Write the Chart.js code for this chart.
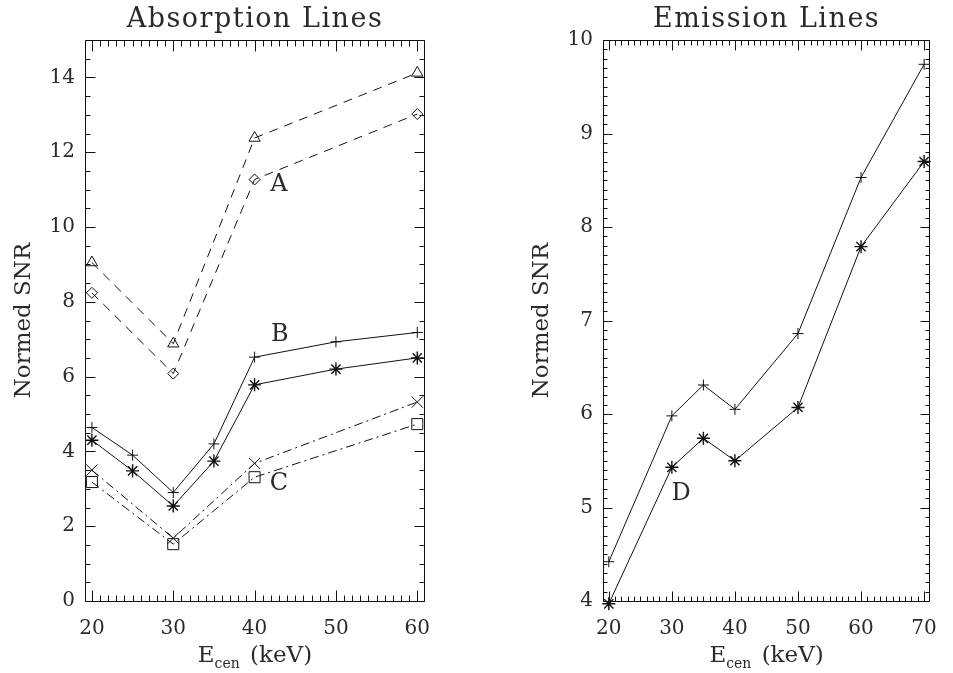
<!DOCTYPE html>
<html>
<head>
<meta charset="utf-8">
<script src="https://cdn.jsdelivr.net/npm/chart.js@4.4.0/dist/chart.umd.min.js"></script>
<style>
  html, body { margin: 0; padding: 0; background: #fff; }
  #wrap { position: relative; width: 953px; height: 673px; overflow: hidden; }
  #absBox { position: absolute; left: 0; top: 0; width: 476px; height: 673px; }
  #emiBox { position: absolute; left: 476px; top: 0; width: 477px; height: 673px; }
</style>
</head>
<body>
<div id="wrap">
  <div id="absBox"><canvas id="absChart" width="476" height="673"></canvas></div>
  <div id="emiBox"><canvas id="emiChart" width="477" height="673"></canvas></div>
</div>
<script>
// ---- values ----
// Absorption lines, group A (dashed)
const aEnergy   = [20, 30, 40, 60];
const aTriangle = [9.05, 6.88, 12.38, 14.12];
const aDiamond  = [8.24, 6.08, 11.27, 13.02];
// group B (solid)
const bEnergy   = [20, 25, 30, 35, 40, 50, 60];
const bPlus     = [4.64, 3.90, 2.90, 4.20, 6.52, 6.93, 7.18];
const bStar     = [4.30, 3.48, 2.54, 3.74, 5.78, 6.20, 6.50];
// group C (dash-dot)
const cEnergy   = [20, 30, 40, 60];
const cCross    = [3.50, 1.68, 3.68, 5.32];
const cSquare   = [3.18, 1.52, 3.31, 4.73];
// Emission lines (solid)
const eEnergy   = [20, 30, 35, 40, 50, 60, 70];
const ePlus     = [4.42, 5.98, 6.31, 6.05, 6.86, 8.53, 9.74];
const eStar     = [3.97, 5.43, 5.74, 5.50, 6.07, 7.79, 8.70];

// tick labels
const absXTicks = [20, 30, 40, 50, 60];
const absYTicks = [0, 2, 4, 6, 8, 10, 12, 14];
const emiXTicks = [20, 30, 40, 50, 60, 70];
const emiYTicks = [4, 5, 6, 7, 8, 9, 10];

// curve tags (data coords)
const absTagText = ['A', 'B', 'C'];
const absTagX    = [43.0, 43.1, 43.0];
const absTagY    = [10.96, 6.96, 2.96];
const emiTagText = ['D'];
const emiTagX    = [31.45];
const emiTagY    = [5.08];

const serif = "'DejaVu Serif', 'Liberation Serif', serif";
const ink = '#111';
const textInk = '#2a2a2a';

function steps(a, b, step){
  const out = [];
  for(let v = a; v <= b + 1e-9; v += step) out.push(+v.toFixed(3));
  return out;
}

function ds(data, xs, style, radius, dash, pw){
  return {
    data: xs.map((x, i) => ({ x, y: data[i] })),
    borderColor: ink, borderWidth: 1, borderDash: dash || [],
    pointStyle: style, pointRadius: radius,
    pointBorderColor: ink, pointBackgroundColor: 'rgba(0,0,0,0)',
    pointBorderWidth: pw || 1, tension: 0, clip: false, fill: false
  };
}

// box, inward ticks, title, axis titles and curve tags
function framePlugin(o){
  return {
    id: 'frame',
    afterDraw(chart){
      const { ctx, chartArea: a, scales: { x, y } } = chart;
      const L = Math.round(a.left) + 0.5, R = Math.round(a.right) - 0.5;
      const T = Math.round(a.top) + 0.5, B = Math.round(a.bottom) + 0.5;
      ctx.save();
      ctx.strokeStyle = ink; ctx.lineWidth = 1;
      ctx.beginPath();
      ctx.rect(L, T, R - L, B - T);
      const tick = (vals, len, horiz) => {
        vals.forEach(v => {
          if(horiz){
            if(v < x.min || v > x.max) return;
            const p = Math.round(x.getPixelForValue(v)) + 0.5;
            ctx.moveTo(p, B); ctx.lineTo(p, B - len);
            ctx.moveTo(p, T); ctx.lineTo(p, T + len);
          } else {
            if(v < y.min || v > y.max) return;
            const p = Math.round(y.getPixelForValue(v)) + 0.5;
            ctx.moveTo(L, p); ctx.lineTo(L + len, p);
            ctx.moveTo(R, p); ctx.lineTo(R - len, p);
          }
        });
      };
      tick(o.xMinor, o.xMinorLen, true);
      tick(o.xMajor, o.xMajorLen, true);
      tick(o.yMinor, o.yMinorLen, false);
      tick(o.yMajor, o.yMajorLen, false);
      ctx.stroke();

      ctx.fillStyle = textInk;
      const cx = (a.left + a.right) / 2;
      // title
      ctx.font = '27px ' + serif;
      ctx.textAlign = 'center'; ctx.textBaseline = 'alphabetic';
      if('letterSpacing' in ctx) ctx.letterSpacing = '1.5px';
      ctx.fillText(o.title, cx, 27);
      if('letterSpacing' in ctx) ctx.letterSpacing = '0px';

      // y title
      ctx.save();
      ctx.translate(o.yTitleX, (a.top + a.bottom) / 2);
      ctx.rotate(-Math.PI / 2);
      ctx.font = '23px ' + serif;
      ctx.fillText('Normed SNR', 0, 0);
      ctx.restore();

      // x title: E with subscript "cen"
      const big = '23px ' + serif, small = '14px ' + serif;
      ctx.textAlign = 'left';
      ctx.font = big; const w1 = ctx.measureText('E').width;
      const w3 = ctx.measureText(' (keV)').width + 3;
      ctx.font = small; const w2 = ctx.measureText('cen').width;
      let xx = cx - (w1 + w2 + w3) / 2;
      const base = 662;
      ctx.font = big; ctx.fillText('E', xx, base); xx += w1;
      ctx.font = small; ctx.fillText('cen', xx, base + 6); xx += w2 + 3;
      ctx.font = big; ctx.fillText(' (keV)', xx, base);

      // curve tags
      ctx.textAlign = 'center';
      ctx.font = '24px ' + serif;
      o.tagText.forEach((t, i) => {
        ctx.fillText(t, x.getPixelForValue(o.tagX[i]), y.getPixelForValue(o.tagY[i]));
      });
      ctx.restore();
    }
  };
}

function axes(xMin, xMax, yMin, yMax, xTicks, yTicks, yWidth){
  const tickFont = { family: serif, size: 20 };
  return {
    x: {
      type: 'linear', min: xMin, max: xMax,
      grid: { display: false, drawTicks: false }, border: { display: false },
      ticks: { font: tickFont, color: textInk, padding: 16, maxRotation: 0 },
      afterBuildTicks: s => { s.ticks = xTicks.map(v => ({ value: v })); },
      afterFit: s => { s.height = 72; }
    },
    y: {
      type: 'linear', min: yMin, max: yMax,
      grid: { display: false, drawTicks: false }, border: { display: false },
      ticks: { font: tickFont, color: textInk, padding: 10 },
      afterBuildTicks: s => { s.ticks = yTicks.map(v => ({ value: v })); },
      afterFit: s => { s.width = yWidth; }
    }
  };
}

const common = {
  responsive: false,
  animation: false,
  plugins: { legend: { display: false }, tooltip: { enabled: false } },
  elements: { line: { borderCapStyle: 'butt' } }
};

const dashA = [9, 7];
const dashC = [9, 4, 2, 4];

new Chart(document.getElementById('absChart'), {
  type: 'line',
  data: {
    datasets: [
      ds(aTriangle, aEnergy, 'triangle', 6.5, dashA),
      ds(aDiamond,  aEnergy, 'rectRot', 5.5, dashA),
      ds(bPlus,     bEnergy, 'cross', 5.5, null),
      ds(bStar,     bEnergy, 'star', 6.5, null, 1.4),
      ds(cCross,    cEnergy, 'crossRot', 8, dashC),
      ds(cSquare,   cEnergy, 'rect', 7.8, dashC)
    ]
  },
  options: {
    ...common,
    layout: { autoPadding: false, padding: { left: 0, right: 51, top: 40, bottom: 0 } },
    scales: axes(19.15, 60.95, 0, 15, absXTicks, absYTicks, 85)
  },
  plugins: [framePlugin({
    title: 'Absorption Lines', yTitleX: 30,
    xMajor: absXTicks, xMinor: steps(19, 61, 1), xMajorLen: 11, xMinorLen: 6,
    yMajor: absYTicks, yMinor: steps(0, 15, 0.5), yMajorLen: 10, yMinorLen: 5,
    tagText: absTagText, tagX: absTagX, tagY: absTagY
  })]
});

new Chart(document.getElementById('emiChart'), {
  type: 'line',
  data: {
    datasets: [
      ds(ePlus, eEnergy, 'cross', 5.5, null),
      ds(eStar, eEnergy, 'star', 6.5, null, 1.4)
    ]
  },
  options: {
    ...common,
    layout: { autoPadding: false, padding: { left: 0, right: 10, top: 40, bottom: 0 } },
    scales: axes(19.08, 70.96, 4, 10, emiXTicks, emiYTicks, 127)
  },
  plugins: [framePlugin({
    title: 'Emission Lines', yTitleX: 72,
    xMajor: emiXTicks, xMinor: steps(19, 71, 1), xMajorLen: 10, xMinorLen: 5,
    yMajor: emiYTicks, yMinor: steps(4, 10, 0.1), yMajorLen: 9, yMinorLen: 4,
    tagText: emiTagText, tagX: emiTagX, tagY: emiTagY
  })]
});
</script>
</body>
</html>
